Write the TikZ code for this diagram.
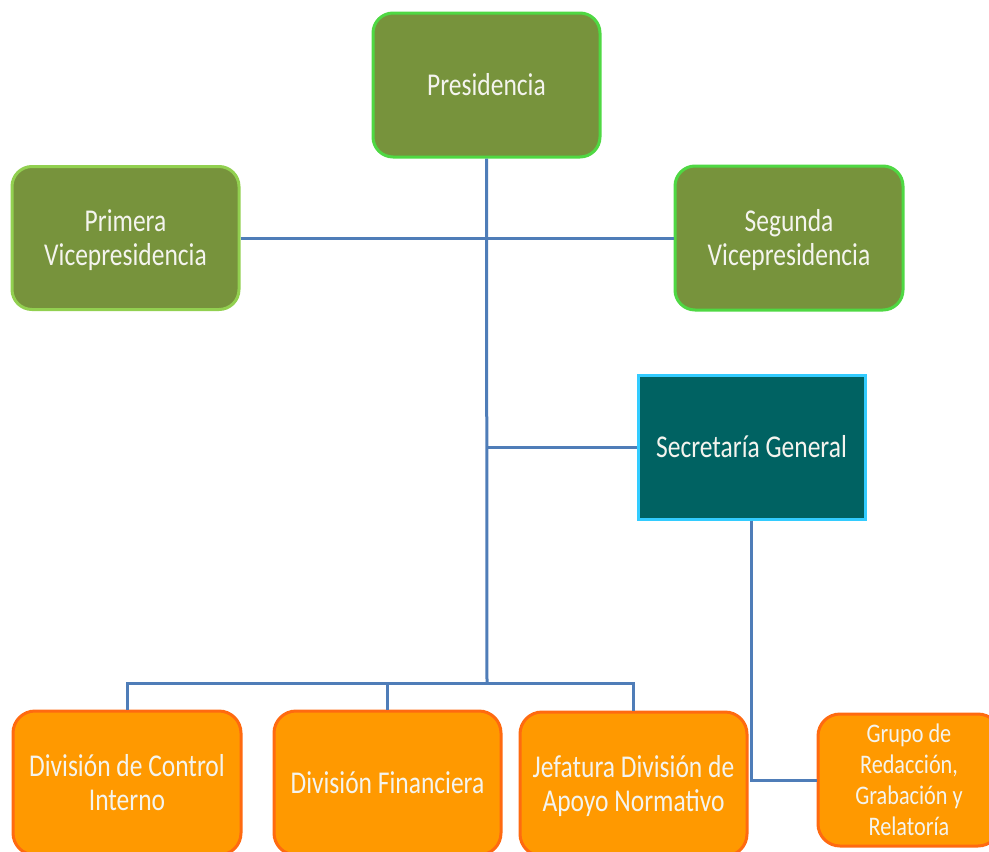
\documentclass[tikz,border=0pt]{standalone}
\usepackage{fontspec}
\setmainfont{Carlito}
\usepackage{graphicx}
\definecolor{olive}{HTML}{77933C}
\definecolor{gborder}{HTML}{4FD843}
\definecolor{gborderB}{HTML}{92D050}
\definecolor{teal}{HTML}{006262}
\definecolor{cyanb}{HTML}{33CCFF}
\definecolor{orangef}{HTML}{FF9900}
\definecolor{oborder}{HTML}{FF6A10}
\definecolor{linec}{HTML}{4F7DB8}
\definecolor{txt}{HTML}{F4F4EE}
\newcommand{\tx}[1]{\raisebox{-3.5pt}[\height][\depth]{\scalebox{1.02}[1.27]{\begin{tabular}{@{}c@{}}#1\end{tabular}}}}
\newcommand{\txs}[1]{\raisebox{-2.5pt}[\height][\depth]{\scalebox{1.01}[1.22]{\begin{tabular}{@{}c@{}}#1\end{tabular}}}}
\tikzset{
  base/.style={minimum width=227pt, minimum height=144pt, inner sep=0pt, line width=3pt, text=txt,
    font=\fontsize{25}{26.5}\selectfont},
  greenbox/.style={base, rounded corners=20pt, fill=olive, draw=gborder},
  greenboxB/.style={base, rounded corners=20pt, fill=olive, draw=gborderB},
  tealbox/.style={base, fill=teal, draw=cyanb},
  orangebox/.style={base, rounded corners=22pt, fill=orangef, draw=oborder},
  conn/.style={draw=linec, line width=3pt}
}
\begin{document}
\begin{tikzpicture}[x=1pt,y=-1pt]
\useasboundingbox (0,0) rectangle (989,852);
\clip (0,0) rectangle (989,852);
\node[greenbox] (pres) at (486.5,85) {\tx{Presidencia}};
\node[greenboxB] (v1) at (125.5,238) [minimum height=143pt] {\tx{Primera\\Vicepresidencia}};
\node[greenbox] (v2) at (789,238) [minimum width=228pt] {\tx{Segunda\\Vicepresidencia}};
\node[tealbox] (sec) at (751.5,447) {\tx{Secretaría General}};
\node[orangebox] (ci) at (127,783) [minimum width=228pt] {\tx{División de Control\\Interno}};
\node[orangebox] (fin) at (387.5,783) {\tx{División Financiera}};
\node[orangebox] (jan) at (633.5,784) {\tx{Jefatura División de\\Apoyo Normativo}};
\node[orangebox] (gr) at (909,780) [minimum width=182pt, minimum height=132pt, font=\fontsize{22}{25.5}\selectfont] {\txs{Grupo de\\Redacción,\\Grabación y\\Relatoría}};
\coordinate (j) at (487,683);
\draw[conn] (pres.south) -- (j);
\draw[conn] (v1.east) -- (v2.west);
\draw[conn] (pres.south |- sec.west) -- (sec.west);
\draw[conn] (ci.north) -- (ci.north |- j) -- (jan.north |- j) -- (jan.north);
\draw[conn] (fin.north) -- (fin.north |- j);
\draw[conn] (sec.south) |- (gr.west);
\end{tikzpicture}
\end{document}
